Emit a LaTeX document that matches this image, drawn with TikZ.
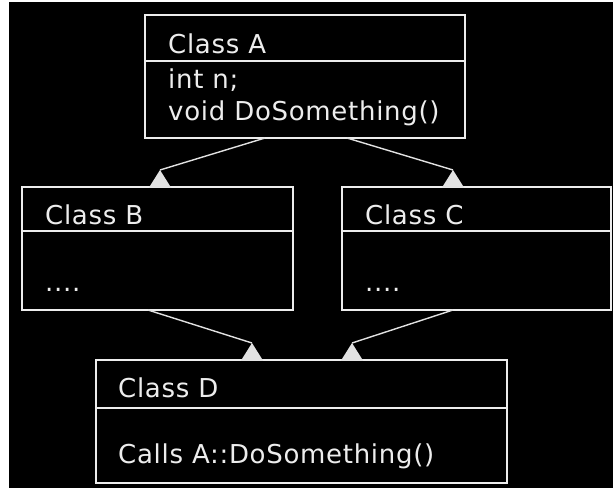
\documentclass[tikz,border=0pt]{standalone}
\usepackage{fontspec}
\setmainfont{DejaVu Sans}[LetterSpace=2.7]
\definecolor{ink}{HTML}{EDEDED}
\definecolor{wire}{HTML}{E2E2E2}
\begin{document}
\begin{tikzpicture}[x=1pt,y=-1pt,
  classbox/.style={draw=ink, line width=1.3pt, fill=black, rectangle,
    anchor=north west, inner sep=0pt, outer sep=0pt},
  label/.style={text=ink, anchor=base west, inner sep=0pt,
    font=\fontsize{26}{26}\selectfont},
  link/.style={draw=wire, line width=1.4pt},
  pics/headup/.style={code={\fill[wire] (0,0) -- (-11,17.5) -- (11,17.5) -- cycle;}}]
  % canvas
  \fill[white] (0,0) rectangle (613,488);
  \fill[black] (8.5,1.5) rectangle (613,488);
  \useasboundingbox (0,0) rectangle (613,488);

  % class boxes
  \node[classbox, minimum width=320pt, minimum height=123pt] (A) at (145,15) {};
  \node[classbox, minimum width=271pt, minimum height=123pt] (B) at (22,187) {};
  \node[classbox, minimum width=269pt, minimum height=123pt] (C) at (342,187) {};
  \node[classbox, minimum width=411pt, minimum height=123pt] (D) at (96,360) {};

  % compartment dividers
  \draw[ink, line width=1.3pt] (145,61) -- (465,61);
  \draw[ink, line width=1.3pt] (22,231) -- (293,231);
  \draw[ink, line width=1.3pt] (342,231) -- (611,231);
  \draw[ink, line width=1.3pt] (96,408) -- (507,408);

  % texts
  \node[label] (An) at (168,53) {Class A};
  \node[label] (Af) at (168,88) {int n;};
  \node[label] (Am) at (168,120) {void DoSomething()};
  \node[label] (Bn) at (45,224) {Class B};
  \node[label] (Bd) at (45,291) {....};
  \node[label] (Cn) at (365,224) {Class C};
  \node[label] (Cd) at (365,291) {....};
  \node[label] (Dn) at (118,397) {Class D};
  \node[label] (Dm) at (118,463) {Calls A::DoSomething()};

  % connector ends
  \coordinate (a1) at (265,138);
  \coordinate (a2) at (347,138);
  \coordinate (b1) at (148,310);
  \coordinate (c1) at (453,310);
  \coordinate (hB) at (160,170);
  \coordinate (hC) at (453,170);
  \coordinate (hD1) at (252,343);
  \coordinate (hD2) at (352,343);

  % connectors with their heads
  \draw[link] (a1) -- (hB);
  \draw[link] (a2) -- (hC);
  \draw[link] (b1) -- (hD1);
  \draw[link] (c1) -- (hD2);
  \pic at (hB) {headup};
  \pic at (hC) {headup};
  \pic at (hD1) {headup};
  \pic at (hD2) {headup};
\end{tikzpicture}
\end{document}
